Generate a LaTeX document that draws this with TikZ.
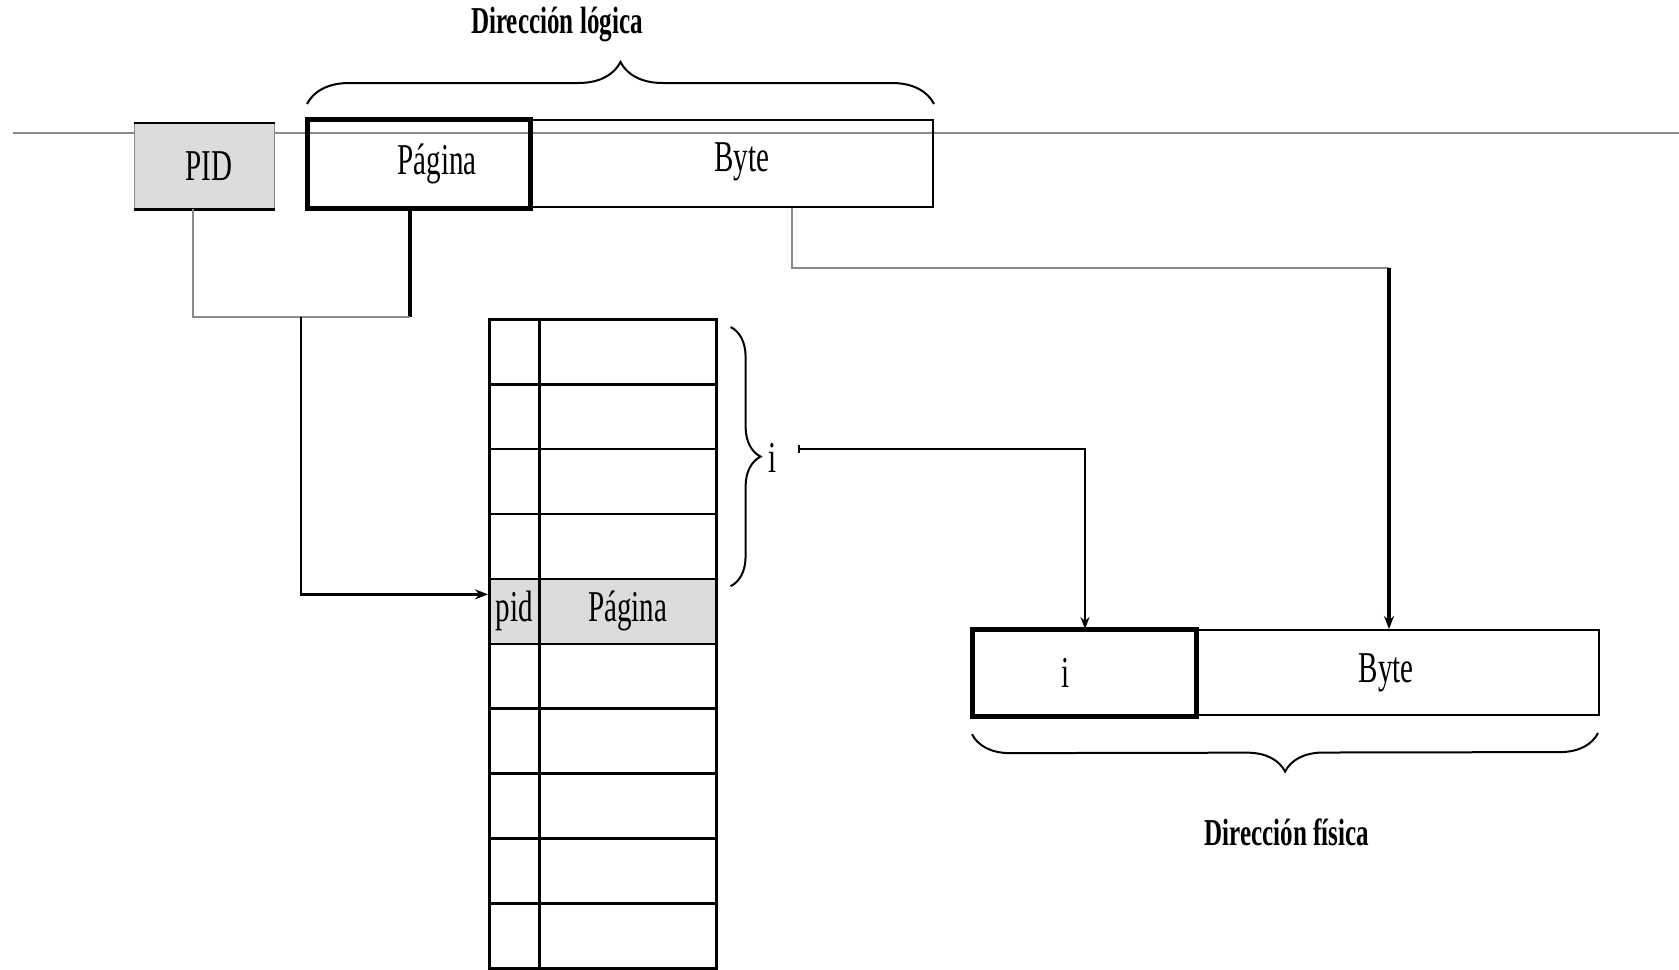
\documentclass[tikz,border=0pt]{standalone}
\usepackage{fontspec}
\usepackage{graphicx}
\setmainfont{Liberation Serif}
\usetikzlibrary{calc,arrows.meta,decorations.pathreplacing}
\newcommand{\cn}[1]{\scalebox{0.66}[1]{#1}}
\definecolor{cellgray}{HTML}{DCDCDC}
\definecolor{linegray}{HTML}{8A8A8A}
\begin{document}
\begin{tikzpicture}[x=0.5pt,y=-0.5pt,
  lbl/.style={inner sep=0pt, font=\fontsize{22}{24}\selectfont},
  ttl/.style={inner sep=0pt, font=\fontsize{19}{21}\selectfont\bfseries},
  cell/.style={draw, line width=1.3pt, inner sep=0pt, minimum height=32.45pt, anchor=north west},
  box/.style={inner sep=0pt, anchor=north west, font=\fontsize{22}{24}\selectfont},
  thinline/.style={draw=linegray, line width=0.6pt},
  tip/.style={-{Stealth[length=6.5pt,width=5pt]}},
  bracestyle/.style={draw, line width=1pt, decorate}
]
\useasboundingbox (0,0) rectangle (1679,969);

% horizontal rule
\coordinate (hl) at (13,133);
\coordinate (hr) at (1679,133);
\draw[thinline] (hl) -- (hr);

% PID box
\node[box, fill=cellgray, draw=linegray, line width=0.6pt, minimum width=70pt, minimum height=42.5pt] (PID) at (134,123) {\hspace*{4pt}\cn{PID}};
\draw[line width=1.3pt] (PID.north west) -- (PID.north east);
\draw[line width=1.3pt] (PID.south west) -- (PID.south east);

% logical address
\node[box, draw, line width=1.6pt, minimum width=110.5pt, minimum height=43.5pt] (pag) at (307,119) {\hspace*{18pt}\raisebox{-2.5pt}{\cn{Página}}};
\node[box, draw, line width=1pt, minimum width=202pt, minimum height=43.5pt] (byte) at (528,119) {\hspace*{10.7pt}\raisebox{6.4pt}{\cn{Byte}}};
\draw[line width=1.6pt] (pag.north west) rectangle (pag.south east);

% top brace
\draw[bracestyle, decoration={brace, amplitude=21pt}] ($(pag.north west)+(0,-15)$) -- ($(byte.north east)+(0,-15)$);
\node[ttl] (tlog) at (557,24) {\cn{Dirección lógica}};

% table
\foreach \r in {1,2,3,4,6,7,8,9,10} {
  \node[cell, minimum width=25pt] (a\r) at (488,{318+(\r-1)*64.9}) {};
  \node[cell, minimum width=88.5pt] (b\r) at (538,{318+(\r-1)*64.9}) {};
}
\node[cell, fill=cellgray, minimum width=25pt, font=\fontsize{22}{24}\selectfont] (a5) at (488,{318+4*64.9}) {\cn{pid}};
\node[cell, fill=cellgray, minimum width=88.5pt, font=\fontsize{22}{24}\selectfont] (b5) at (538,{318+4*64.9}) {\cn{Página}};

% right brace and i
\draw[bracestyle, decoration={brace, amplitude=15pt}] ($(b1.north east)+(13,9)$) -- ($(b4.south east)+(13,6)$);
\node[lbl] (ilbl) at (773,458) {\cn{i}};

% physical address
\node[box, draw, line width=1.6pt, minimum width=111pt, minimum height=42.5pt] (pi) at (972,629) {\raisebox{-2.7pt}{\cn{i}}\hspace*{19.2pt}};
\node[box, draw, line width=1pt, minimum width=202pt, minimum height=42.5pt] (pbyte) at (1194,629) {\raisebox{-2.7pt}{\cn{Byte}}\hspace*{10.7pt}};
\draw[line width=1.6pt] (pi.north west) rectangle (pi.south east);

% bottom brace
\draw[bracestyle, decoration={brace, amplitude=19pt}] ($(pbyte.south east)+(-2,17)$) -- ($(pi.south west)+(0,17)$);
\node[ttl] (tfis) at (1287,832) {\cn{Dirección física}};

% connectors: PID + Página -> table
\coordinate (j1) at (410,317);
\coordinate (c1) at (193,317);
\coordinate (c2) at (301,317);
\draw[line width=1.6pt] (j1 |- pag.south) -- (j1);
\draw[thinline] (c1 |- PID.south) -- (c1) -- (j1);
\coordinate (tin) at ($(a5.west)+(0,-17)$);
\draw[line width=1.3pt, tip] (c2) |- (tin);

% connector: Byte -> physical Byte
\coordinate (d1) at (792,268);
\coordinate (d2) at (1389,268);
\draw[thinline] (d1 |- byte.south) -- (d1) -- (d2);
\draw[line width=1.8pt, tip] (d2) -- (d2 |- pbyte.north);

% connector: i -> physical i
\coordinate (e1) at (798,449);
\coordinate (e2) at (1085,449);
\draw[line width=0.8pt, {Bar[width=4pt]}-{Stealth[length=6pt,width=4.5pt]}] (e1) -- (e2) -- (e2 |- pi.north);
\end{tikzpicture}
\end{document}
